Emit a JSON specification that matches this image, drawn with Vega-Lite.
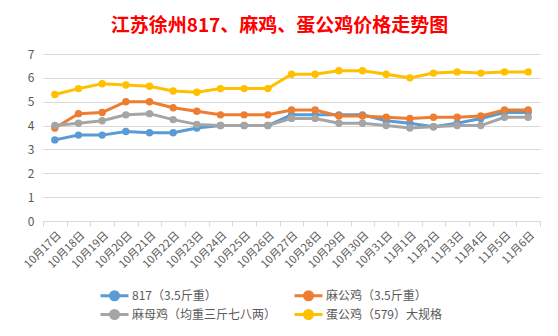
{
  "$schema": "https://vega.github.io/schema/vega-lite/v6.json",
  "width": 497,
  "height": 167,
  "autosize": "none",
  "padding": {"left": 43, "top": 54, "right": 18, "bottom": 115},
  "background": "white",
  "title": {
    "text": "江苏徐州817、麻鸡、蛋公鸡价格走势图",
    "font": "Noto Sans CJK SC",
    "fontSize": 19,
    "fontWeight": "bold",
    "color": "#FF0000",
    "anchor": "middle",
    "dx": -12,
    "offset": 12
  },
  "config": {
    "view": {"stroke": null},
    "font": "Noto Sans CJK SC"
  },
  "data": {
    "values": [
      {"date": "10月17日", "series": "817（3.5斤重）", "price": 3.4},
      {"date": "10月18日", "series": "817（3.5斤重）", "price": 3.6},
      {"date": "10月19日", "series": "817（3.5斤重）", "price": 3.6},
      {"date": "10月20日", "series": "817（3.5斤重）", "price": 3.75},
      {"date": "10月21日", "series": "817（3.5斤重）", "price": 3.7},
      {"date": "10月22日", "series": "817（3.5斤重）", "price": 3.7},
      {"date": "10月23日", "series": "817（3.5斤重）", "price": 3.9},
      {"date": "10月24日", "series": "817（3.5斤重）", "price": 4.0},
      {"date": "10月25日", "series": "817（3.5斤重）", "price": 4.0},
      {"date": "10月26日", "series": "817（3.5斤重）", "price": 4.0},
      {"date": "10月27日", "series": "817（3.5斤重）", "price": 4.45},
      {"date": "10月28日", "series": "817（3.5斤重）", "price": 4.45},
      {"date": "10月29日", "series": "817（3.5斤重）", "price": 4.45},
      {"date": "10月30日", "series": "817（3.5斤重）", "price": 4.45},
      {"date": "10月31日", "series": "817（3.5斤重）", "price": 4.2},
      {"date": "11月1日", "series": "817（3.5斤重）", "price": 4.1},
      {"date": "11月2日", "series": "817（3.5斤重）", "price": 3.95},
      {"date": "11月3日", "series": "817（3.5斤重）", "price": 4.1},
      {"date": "11月4日", "series": "817（3.5斤重）", "price": 4.3},
      {"date": "11月5日", "series": "817（3.5斤重）", "price": 4.55},
      {"date": "11月6日", "series": "817（3.5斤重）", "price": 4.55},
      {"date": "10月17日", "series": "麻公鸡（3.5斤重）", "price": 3.9},
      {"date": "10月18日", "series": "麻公鸡（3.5斤重）", "price": 4.5},
      {"date": "10月19日", "series": "麻公鸡（3.5斤重）", "price": 4.55},
      {"date": "10月20日", "series": "麻公鸡（3.5斤重）", "price": 5.0},
      {"date": "10月21日", "series": "麻公鸡（3.5斤重）", "price": 5.0},
      {"date": "10月22日", "series": "麻公鸡（3.5斤重）", "price": 4.75},
      {"date": "10月23日", "series": "麻公鸡（3.5斤重）", "price": 4.6},
      {"date": "10月24日", "series": "麻公鸡（3.5斤重）", "price": 4.45},
      {"date": "10月25日", "series": "麻公鸡（3.5斤重）", "price": 4.45},
      {"date": "10月26日", "series": "麻公鸡（3.5斤重）", "price": 4.45},
      {"date": "10月27日", "series": "麻公鸡（3.5斤重）", "price": 4.65},
      {"date": "10月28日", "series": "麻公鸡（3.5斤重）", "price": 4.65},
      {"date": "10月29日", "series": "麻公鸡（3.5斤重）", "price": 4.4},
      {"date": "10月30日", "series": "麻公鸡（3.5斤重）", "price": 4.4},
      {"date": "10月31日", "series": "麻公鸡（3.5斤重）", "price": 4.35},
      {"date": "11月1日", "series": "麻公鸡（3.5斤重）", "price": 4.3},
      {"date": "11月2日", "series": "麻公鸡（3.5斤重）", "price": 4.35},
      {"date": "11月3日", "series": "麻公鸡（3.5斤重）", "price": 4.35},
      {"date": "11月4日", "series": "麻公鸡（3.5斤重）", "price": 4.4},
      {"date": "11月5日", "series": "麻公鸡（3.5斤重）", "price": 4.65},
      {"date": "11月6日", "series": "麻公鸡（3.5斤重）", "price": 4.65},
      {"date": "10月17日", "series": "麻母鸡（均重三斤七八两）", "price": 4.0},
      {"date": "10月18日", "series": "麻母鸡（均重三斤七八两）", "price": 4.1},
      {"date": "10月19日", "series": "麻母鸡（均重三斤七八两）", "price": 4.2},
      {"date": "10月20日", "series": "麻母鸡（均重三斤七八两）", "price": 4.45},
      {"date": "10月21日", "series": "麻母鸡（均重三斤七八两）", "price": 4.5},
      {"date": "10月22日", "series": "麻母鸡（均重三斤七八两）", "price": 4.25},
      {"date": "10月23日", "series": "麻母鸡（均重三斤七八两）", "price": 4.05},
      {"date": "10月24日", "series": "麻母鸡（均重三斤七八两）", "price": 4.0},
      {"date": "10月25日", "series": "麻母鸡（均重三斤七八两）", "price": 4.0},
      {"date": "10月26日", "series": "麻母鸡（均重三斤七八两）", "price": 4.0},
      {"date": "10月27日", "series": "麻母鸡（均重三斤七八两）", "price": 4.3},
      {"date": "10月28日", "series": "麻母鸡（均重三斤七八两）", "price": 4.3},
      {"date": "10月29日", "series": "麻母鸡（均重三斤七八两）", "price": 4.1},
      {"date": "10月30日", "series": "麻母鸡（均重三斤七八两）", "price": 4.1},
      {"date": "10月31日", "series": "麻母鸡（均重三斤七八两）", "price": 4.0},
      {"date": "11月1日", "series": "麻母鸡（均重三斤七八两）", "price": 3.9},
      {"date": "11月2日", "series": "麻母鸡（均重三斤七八两）", "price": 3.95},
      {"date": "11月3日", "series": "麻母鸡（均重三斤七八两）", "price": 4.0},
      {"date": "11月4日", "series": "麻母鸡（均重三斤七八两）", "price": 4.0},
      {"date": "11月5日", "series": "麻母鸡（均重三斤七八两）", "price": 4.35},
      {"date": "11月6日", "series": "麻母鸡（均重三斤七八两）", "price": 4.35},
      {"date": "10月17日", "series": "蛋公鸡（579）大规格", "price": 5.3},
      {"date": "10月18日", "series": "蛋公鸡（579）大规格", "price": 5.55},
      {"date": "10月19日", "series": "蛋公鸡（579）大规格", "price": 5.75},
      {"date": "10月20日", "series": "蛋公鸡（579）大规格", "price": 5.7},
      {"date": "10月21日", "series": "蛋公鸡（579）大规格", "price": 5.65},
      {"date": "10月22日", "series": "蛋公鸡（579）大规格", "price": 5.45},
      {"date": "10月23日", "series": "蛋公鸡（579）大规格", "price": 5.4},
      {"date": "10月24日", "series": "蛋公鸡（579）大规格", "price": 5.55},
      {"date": "10月25日", "series": "蛋公鸡（579）大规格", "price": 5.55},
      {"date": "10月26日", "series": "蛋公鸡（579）大规格", "price": 5.55},
      {"date": "10月27日", "series": "蛋公鸡（579）大规格", "price": 6.15},
      {"date": "10月28日", "series": "蛋公鸡（579）大规格", "price": 6.15},
      {"date": "10月29日", "series": "蛋公鸡（579）大规格", "price": 6.3},
      {"date": "10月30日", "series": "蛋公鸡（579）大规格", "price": 6.3},
      {"date": "10月31日", "series": "蛋公鸡（579）大规格", "price": 6.15},
      {"date": "11月1日", "series": "蛋公鸡（579）大规格", "price": 6.0},
      {"date": "11月2日", "series": "蛋公鸡（579）大规格", "price": 6.2},
      {"date": "11月3日", "series": "蛋公鸡（579）大规格", "price": 6.25},
      {"date": "11月4日", "series": "蛋公鸡（579）大规格", "price": 6.2},
      {"date": "11月5日", "series": "蛋公鸡（579）大规格", "price": 6.25},
      {"date": "11月6日", "series": "蛋公鸡（579）大规格", "price": 6.25}
    ]
  },
  "encoding": {
    "x": {
      "field": "date",
      "type": "ordinal",
      "sort": null,
      "scale": {"paddingInner": 0, "paddingOuter": 0},
      "axis": {
        "title": null,
        "labelAngle": -45,
        "labelFontSize": 11,
        "labelColor": "#595959",
        "labelPadding": 3,
        "domainColor": "#d9d9d9",
        "tickColor": "#d9d9d9",
        "tickSize": 5,
        "tickBand": "extent",
        "grid": false
      }
    },
    "y": {
      "field": "price",
      "type": "quantitative",
      "scale": {"domain": [0, 7], "nice": false, "zero": true},
      "axis": {
        "title": null,
        "values": [0, 1, 2, 3, 4, 5, 6, 7],
        "labelFontSize": 12,
        "labelColor": "#595959",
        "labelPadding": 9,
        "domain": false,
        "ticks": false,
        "gridColor": "#d9d9d9",
        "gridWidth": 1
      }
    },
    "color": {
      "field": "series",
      "type": "nominal",
      "sort": ["817（3.5斤重）", "麻公鸡（3.5斤重）", "麻母鸡（均重三斤七八两）", "蛋公鸡（579）大规格"],
      "scale": {
        "domain": ["817（3.5斤重）", "麻公鸡（3.5斤重）", "麻母鸡（均重三斤七八两）", "蛋公鸡（579）大规格"],
        "range": ["#5B9BD5", "#ED7D31", "#A5A5A5", "#FFC000"]
      },
      "legend": {
        "title": null,
        "orient": "none",
        "direction": "horizontal",
        "legendX": 63,
        "legendY": 233,
        "columns": 2,
        "columnPadding": 11,
        "rowPadding": -2,
        "symbolType": "M-2,0L2,0M0.57,0A0.57,0.57,0,1,1,-0.57,0A0.57,0.57,0,1,1,0.57,0Z",
        "symbolSize": 196,
        "symbolStrokeWidth": 3,
        "labelOffset": 9,
        "labelFontSize": 12,
        "labelColor": "#595959",
        "labelLimit": 300,
        "encode": {
          "symbols": {
            "update": {
              "fill": {"scale": "color", "field": "value"},
              "stroke": {"scale": "color", "field": "value"},
              "fillOpacity": {"value": 1}
            }
          }
        }
      }
    }
  },
  "mark": {
    "type": "line",
    "strokeWidth": 3,
    "point": {"filled": true, "size": 55, "opacity": 1}
  }
}
